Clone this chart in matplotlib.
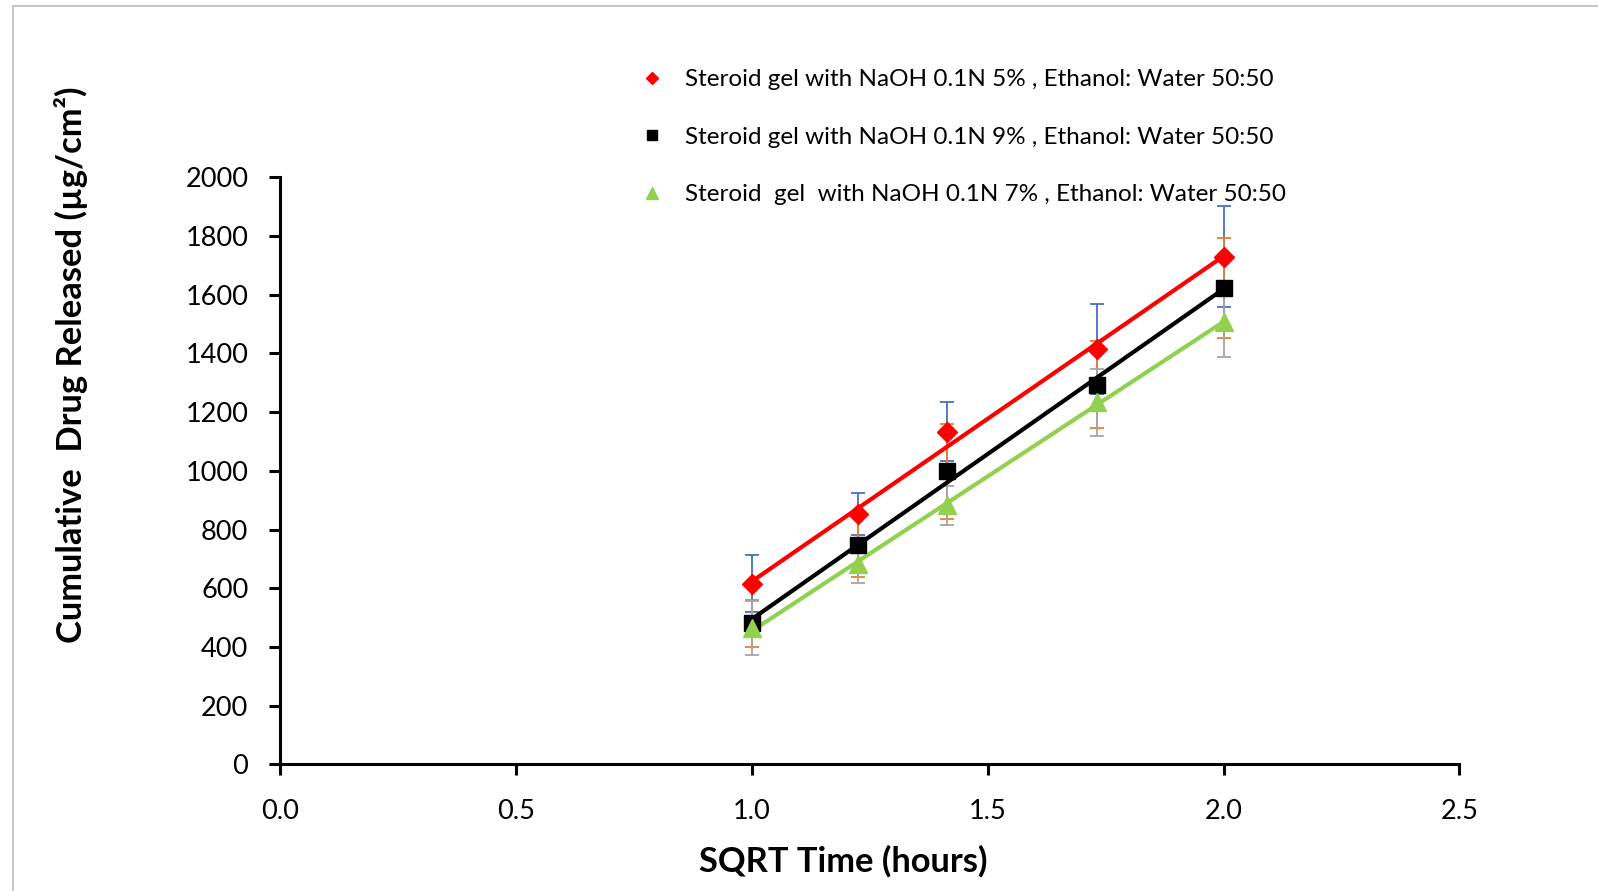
import numpy as np
import matplotlib
matplotlib.use("Agg")
import matplotlib.pyplot as plt
from matplotlib.lines import Line2D

# ---- data ----
sqrt_time = [1.0, 1.2247, 1.4142, 1.7321, 2.0]
rel_5 = [615, 852, 1133, 1414, 1730]
err_5 = [97, 72, 100, 154, 172]
rel_9 = [480, 747, 998, 1294, 1622]
err_9 = [80, 108, 163, 148, 171]
rel_7 = [464, 683, 882, 1233, 1508]
err_7 = [92, 65, 65, 113, 121]
labels = [
    "Steroid gel with NaOH 0.1N 5% , Ethanol: Water 50:50",
    "Steroid gel with NaOH 0.1N 9% , Ethanol: Water 50:50",
    "Steroid  gel  with NaOH 0.1N 7% , Ethanol: Water 50:50",
]
x_ticks = [0.0, 0.5, 1.0, 1.5, 2.0, 2.5]
y_ticks = [0, 200, 400, 600, 800, 1000, 1200, 1400, 1600, 1800, 2000]

plt.rcParams['font.family'] = ['Lato', 'DejaVu Sans']

W, H = 1598, 891
fig = plt.figure(figsize=(W / 100, H / 100), dpi=100)
ax = fig.add_axes([280.3 / W, 1 - 764.3 / H, (1459.4 - 280.3) / W, (764.3 - 177.3) / H])

series = [
    (rel_5, err_5, '#FF0000', 'D', 10, '#4472C4'),
    (rel_9, err_9, '#000000', 's', 12, '#ED7D31'),
    (rel_7, err_7, '#92D050', '^', 13, '#A5A5A5'),
]
xs = np.array(sqrt_time)
handles = []
for (vals, errs, col, mk, ms, ecol), lab in zip(series, labels):
    ax.errorbar(xs, vals, yerr=errs, fmt='none', ecolor=ecol, elinewidth=1.3,
                capsize=5, capthick=1.3, zorder=2)
for (vals, errs, col, mk, ms, ecol), lab in zip(series, labels):
    m, b = np.polyfit(xs, vals, 1)
    xx = np.array([xs.min(), xs.max()])
    ax.plot(xx, m * xx + b, color=col, lw=3, zorder=3, solid_capstyle='butt')
for (vals, errs, col, mk, ms, ecol), lab in zip(series, labels):
    h, = ax.plot(xs, vals, linestyle='none', marker=mk, markersize=ms, color=col,
                 markeredgecolor=col, zorder=4, label=lab)
    handles.append(h)

ax.set_xlim(0, 2.5)
ax.set_ylim(0, 2000)
ax.set_xticks(x_ticks)
ax.set_xticklabels([f"{v:.1f}" for v in x_ticks])
ax.set_yticks(y_ticks)
ax.set_yticklabels([str(v) for v in y_ticks])
for s in ['top', 'right']:
    ax.spines[s].set_visible(False)
for s in ['left', 'bottom']:
    ax.spines[s].set_linewidth(2.2)
    ax.spines[s].set_color('black')
ax.tick_params(axis='both', direction='out', length=8, width=2.2, labelsize=19.5)
ax.tick_params(axis='y', pad=15)
ax.tick_params(axis='x', pad=17)

fig.text(843 / W, 1 - 861 / H, "SQRT Time (hours)", ha='center', va='center',
         fontsize=24.8, fontweight='bold')
fig.text(71 / W, 1 - 365 / H, "Cumulative  Drug Released (µg/cm²)", ha='center',
         va='center', rotation=90, fontsize=24.8, fontweight='bold')

leg = fig.legend(handles=handles, labels=labels, loc='upper left',
                 bbox_to_anchor=(628 / W, 1 - 57 / H), frameon=False,
                 fontsize=17.5, markerscale=0.65, handlelength=1.0,
                 handletextpad=0.85, labelspacing=1.5, borderpad=0)

# outer border
fig.add_artist(Line2D([13 / W, 1.0], [1 - 6 / H, 1 - 6 / H], color='#c8c8c8', lw=1.5,
                      transform=fig.transFigure))
fig.add_artist(Line2D([13 / W, 13 / W], [0, 1 - 6 / H], color='#c8c8c8', lw=1.5,
                      transform=fig.transFigure))

fig.savefig("out.png", dpi=100)
